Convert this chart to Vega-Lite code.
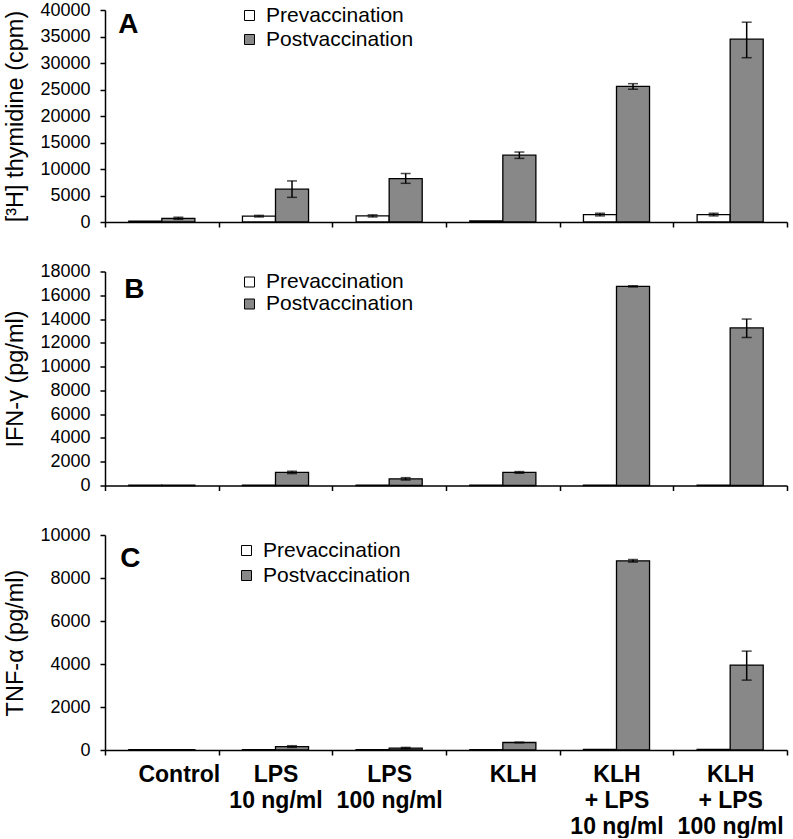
{
  "$schema": "https://vega.github.io/schema/vega-lite/v6.json",
  "background": "white",
  "padding": {"left": 3, "top": 1, "right": 2, "bottom": 0},
  "bounds": "flush",
  "spacing": 49.5,
  "config": {
    "font": "Liberation Sans",
    "view": {"stroke": null},
    "axis": {
      "domainColor": "black", "domainWidth": 1.5, "tickColor": "black", "tickWidth": 1.5, "tickSize": 5,
      "labelColor": "black", "titleColor": "black", "grid": false,
      "labelFont": "Liberation Sans", "titleFont": "Liberation Sans"
    },
    "axisY": {"labelOverlap": false, "labelFontSize": 18, "labelPadding": 10, "titleFontSize": 23.5, "titleFontWeight": "normal", "titlePadding": 12, "format": "d"},
    "legend": {"labelFont": "Liberation Sans", "labelColor": "black"}
  },
  "datasets": {
    "A": [
      {"cond": "Control", "phase": "Prevaccination", "value": 150, "lo": null, "hi": null},
      {"cond": "Control", "phase": "Postvaccination", "value": 700, "lo": 500, "hi": 900},
      {"cond": "LPS|10 ng/ml", "phase": "Prevaccination", "value": 1100, "lo": 950, "hi": 1250},
      {"cond": "LPS|10 ng/ml", "phase": "Postvaccination", "value": 6200, "lo": 4650, "hi": 7750},
      {"cond": "LPS|100 ng/ml", "phase": "Prevaccination", "value": 1150, "lo": 950, "hi": 1350},
      {"cond": "LPS|100 ng/ml", "phase": "Postvaccination", "value": 8200, "lo": 7300, "hi": 9150},
      {"cond": "KLH", "phase": "Prevaccination", "value": 200, "lo": null, "hi": null},
      {"cond": "KLH", "phase": "Postvaccination", "value": 12600, "lo": 12000, "hi": 13200},
      {"cond": "KLH|+ LPS|10 ng/ml", "phase": "Prevaccination", "value": 1400, "lo": 1150, "hi": 1650},
      {"cond": "KLH|+ LPS|10 ng/ml", "phase": "Postvaccination", "value": 25600, "lo": 25050, "hi": 26100},
      {"cond": "KLH|+ LPS|100 ng/ml", "phase": "Prevaccination", "value": 1400, "lo": 1150, "hi": 1650},
      {"cond": "KLH|+ LPS|100 ng/ml", "phase": "Postvaccination", "value": 34500, "lo": 31000, "hi": 37700}
    ],
    "B": [
      {"cond": "Control", "phase": "Prevaccination", "value": 20, "lo": null, "hi": null},
      {"cond": "Control", "phase": "Postvaccination", "value": 20, "lo": null, "hi": null},
      {"cond": "LPS|10 ng/ml", "phase": "Prevaccination", "value": 20, "lo": null, "hi": null},
      {"cond": "LPS|10 ng/ml", "phase": "Postvaccination", "value": 1100, "lo": 1000, "hi": 1200},
      {"cond": "LPS|100 ng/ml", "phase": "Prevaccination", "value": 20, "lo": null, "hi": null},
      {"cond": "LPS|100 ng/ml", "phase": "Postvaccination", "value": 560, "lo": 460, "hi": 660},
      {"cond": "KLH", "phase": "Prevaccination", "value": 20, "lo": null, "hi": null},
      {"cond": "KLH", "phase": "Postvaccination", "value": 1100, "lo": 1030, "hi": 1170},
      {"cond": "KLH|+ LPS|10 ng/ml", "phase": "Prevaccination", "value": 20, "lo": null, "hi": null},
      {"cond": "KLH|+ LPS|10 ng/ml", "phase": "Postvaccination", "value": 16750, "lo": 16700, "hi": 16800},
      {"cond": "KLH|+ LPS|100 ng/ml", "phase": "Prevaccination", "value": 20, "lo": null, "hi": null},
      {"cond": "KLH|+ LPS|100 ng/ml", "phase": "Postvaccination", "value": 13250, "lo": 12450, "hi": 14000}
    ],
    "C": [
      {"cond": "Control", "phase": "Prevaccination", "value": 20, "lo": null, "hi": null},
      {"cond": "Control", "phase": "Postvaccination", "value": 20, "lo": null, "hi": null},
      {"cond": "LPS|10 ng/ml", "phase": "Prevaccination", "value": 20, "lo": null, "hi": null},
      {"cond": "LPS|10 ng/ml", "phase": "Postvaccination", "value": 160, "lo": 120, "hi": 200},
      {"cond": "LPS|100 ng/ml", "phase": "Prevaccination", "value": 20, "lo": null, "hi": null},
      {"cond": "LPS|100 ng/ml", "phase": "Postvaccination", "value": 90, "lo": 60, "hi": 120},
      {"cond": "KLH", "phase": "Prevaccination", "value": 20, "lo": null, "hi": null},
      {"cond": "KLH", "phase": "Postvaccination", "value": 350, "lo": 335, "hi": 365},
      {"cond": "KLH|+ LPS|10 ng/ml", "phase": "Prevaccination", "value": 30, "lo": null, "hi": null},
      {"cond": "KLH|+ LPS|10 ng/ml", "phase": "Postvaccination", "value": 8800, "lo": 8740, "hi": 8860},
      {"cond": "KLH|+ LPS|100 ng/ml", "phase": "Prevaccination", "value": 30, "lo": null, "hi": null},
      {"cond": "KLH|+ LPS|100 ng/ml", "phase": "Postvaccination", "value": 3950, "lo": 3250, "hi": 4600}
    ]
  },
  "resolve": {"scale": {"x": "independent", "y": "independent", "fill": "independent"}, "legend": {"fill": "independent"}},
  "vconcat": [
    {
      "width": 682, "height": 212,
      "data": {"name": "A"},
      "encoding": {
        "x": {"field": "cond", "type": "nominal", "sort": null, "title": null,
              "scale": {"paddingInner": 0, "paddingOuter": 0},
              "axis": {"labels": false, "tickBand": "extent"}},
        "xOffset": {"field": "phase", "type": "nominal", "sort": ["Prevaccination", "Postvaccination"],
                    "scale": {"paddingInner": 0, "paddingOuter": 0.72}}
      },
      "layer": [
        {
          "mark": {"type": "bar", "stroke": "black", "strokeWidth": 1.3},
          "encoding": {
            "y": {"field": "value", "type": "quantitative", "title": "[³H] thymidine (cpm)",
                  "scale": {"domain": [0, 40000], "nice": false},
                  "axis": {"values": [0, 5000, 10000, 15000, 20000, 25000, 30000, 35000, 40000]}},
            "fill": {"field": "phase", "type": "nominal", "sort": ["Prevaccination", "Postvaccination"],
                     "scale": {"domain": ["Prevaccination", "Postvaccination"], "range": ["white", "#888888"]},
                     "legend": {"orient": "none", "legendX": 134, "legendY": -5, "title": null, "symbolType": "square",
                                "symbolSize": 100, "symbolStrokeColor": "black", "symbolStrokeWidth": 1,
                                "labelFontSize": 21, "labelOffset": 6, "rowPadding": 2, "padding": 0}}
          }
        },
        {
          "transform": [{"filter": "datum.lo != null"}],
          "mark": {"type": "rule", "color": "black", "strokeWidth": 1.5},
          "encoding": {"y": {"field": "lo", "type": "quantitative", "title": "[³H] thymidine (cpm)",
                             "axis": {"values": [0, 5000, 10000, 15000, 20000, 25000, 30000, 35000, 40000]}}, "y2": {"field": "hi"}}
        },
        {
          "transform": [{"filter": "datum.lo != null"}],
          "mark": {"type": "tick", "color": "black", "size": 10, "thickness": 1.5},
          "encoding": {"y": {"field": "lo", "type": "quantitative", "title": "[³H] thymidine (cpm)",
                             "axis": {"values": [0, 5000, 10000, 15000, 20000, 25000, 30000, 35000, 40000]}}}
        },
        {
          "transform": [{"filter": "datum.lo != null"}],
          "mark": {"type": "tick", "color": "black", "size": 10, "thickness": 1.5},
          "encoding": {"y": {"field": "hi", "type": "quantitative", "title": "[³H] thymidine (cpm)",
                             "axis": {"values": [0, 5000, 10000, 15000, 20000, 25000, 30000, 35000, 40000]}}}
        },
        {
          "transform": [{"filter": "datum.cond == 'Control' && datum.phase == 'Prevaccination'"}],
          "mark": {"type": "text", "text": "A", "fontSize": 28, "fontWeight": "bold", "align": "left", "baseline": "alphabetic", "dx": -27, "color": "black", "font": "Liberation Sans"},
          "encoding": {"y": {"datum": 35660, "type": "quantitative", "title": "[³H] thymidine (cpm)",
                             "axis": {"values": [0, 5000, 10000, 15000, 20000, 25000, 30000, 35000, 40000]}}}
        }
      ]
    },
    {
      "width": 682, "height": 214,
      "data": {"name": "B"},
      "encoding": {
        "x": {"field": "cond", "type": "nominal", "sort": null, "title": null,
              "scale": {"paddingInner": 0, "paddingOuter": 0},
              "axis": {"labels": false, "tickBand": "extent"}},
        "xOffset": {"field": "phase", "type": "nominal", "sort": ["Prevaccination", "Postvaccination"],
                    "scale": {"paddingInner": 0, "paddingOuter": 0.72}}
      },
      "layer": [
        {
          "mark": {"type": "bar", "stroke": "black", "strokeWidth": 1.3},
          "encoding": {
            "y": {"field": "value", "type": "quantitative", "title": "IFN-γ (pg/ml)",
                  "scale": {"domain": [0, 18000], "nice": false},
                  "axis": {"values": [0, 2000, 4000, 6000, 8000, 10000, 12000, 14000, 16000, 18000]}},
            "fill": {"field": "phase", "type": "nominal", "sort": ["Prevaccination", "Postvaccination"],
                     "scale": {"domain": ["Prevaccination", "Postvaccination"], "range": ["white", "#888888"]},
                     "legend": {"orient": "none", "legendX": 134, "legendY": 0, "title": null, "symbolType": "square",
                                "symbolSize": 100, "symbolStrokeColor": "black", "symbolStrokeWidth": 1,
                                "labelFontSize": 21, "labelOffset": 6, "rowPadding": 0, "padding": 0}}
          }
        },
        {
          "transform": [{"filter": "datum.lo != null"}],
          "mark": {"type": "rule", "color": "black", "strokeWidth": 1.5},
          "encoding": {"y": {"field": "lo", "type": "quantitative", "title": "IFN-γ (pg/ml)",
                             "axis": {"values": [0, 2000, 4000, 6000, 8000, 10000, 12000, 14000, 16000, 18000]}}, "y2": {"field": "hi"}}
        },
        {
          "transform": [{"filter": "datum.lo != null"}],
          "mark": {"type": "tick", "color": "black", "size": 10, "thickness": 1.5},
          "encoding": {"y": {"field": "lo", "type": "quantitative", "title": "IFN-γ (pg/ml)",
                             "axis": {"values": [0, 2000, 4000, 6000, 8000, 10000, 12000, 14000, 16000, 18000]}}}
        },
        {
          "transform": [{"filter": "datum.lo != null"}],
          "mark": {"type": "tick", "color": "black", "size": 10, "thickness": 1.5},
          "encoding": {"y": {"field": "hi", "type": "quantitative", "title": "IFN-γ (pg/ml)",
                             "axis": {"values": [0, 2000, 4000, 6000, 8000, 10000, 12000, 14000, 16000, 18000]}}}
        },
        {
          "transform": [{"filter": "datum.cond == 'Control' && datum.phase == 'Prevaccination'"}],
          "mark": {"type": "text", "text": "B", "fontSize": 28, "fontWeight": "bold", "align": "left", "baseline": "alphabetic", "dx": -21, "color": "black", "font": "Liberation Sans"},
          "encoding": {"y": {"datum": 15730, "type": "quantitative", "title": "IFN-γ (pg/ml)",
                             "axis": {"values": [0, 2000, 4000, 6000, 8000, 10000, 12000, 14000, 16000, 18000]}}}
        }
      ]
    },
    {
      "width": 682, "height": 215,
      "data": {"name": "C"},
      "encoding": {
        "x": {"field": "cond", "type": "nominal", "sort": null, "title": null,
              "scale": {"paddingInner": 0, "paddingOuter": 0},
              "axis": {"tickBand": "extent", "labelExpr": "split(datum.label, '|')", "labelAngle": 0,
                       "labelFontSize": 23, "labelFontWeight": "bold", "labelLineHeight": 26, "labelPadding": 8,
                       "labelLimit": 0, "labelOverlap": false,
                       "labelOffset": {"condition": [{"test": "datum.value == 'Control'", "value": 17}, {"test": "datum.value == 'KLH'", "value": 10}], "value": 0}}},
        "xOffset": {"field": "phase", "type": "nominal", "sort": ["Prevaccination", "Postvaccination"],
                    "scale": {"paddingInner": 0, "paddingOuter": 0.72}}
      },
      "layer": [
        {
          "mark": {"type": "bar", "stroke": "black", "strokeWidth": 1.3},
          "encoding": {
            "y": {"field": "value", "type": "quantitative", "title": "TNF-α (pg/ml)",
                  "scale": {"domain": [0, 10000], "nice": false},
                  "axis": {"values": [0, 2000, 4000, 6000, 8000, 10000]}},
            "fill": {"field": "phase", "type": "nominal", "sort": ["Prevaccination", "Postvaccination"],
                     "scale": {"domain": ["Prevaccination", "Postvaccination"], "range": ["white", "#888888"]},
                     "legend": {"orient": "none", "legendX": 131, "legendY": 5, "title": null, "symbolType": "square",
                                "symbolSize": 100, "symbolStrokeColor": "black", "symbolStrokeWidth": 1,
                                "labelFontSize": 21, "labelOffset": 6, "rowPadding": 3, "padding": 0}}
          }
        },
        {
          "transform": [{"filter": "datum.lo != null"}],
          "mark": {"type": "rule", "color": "black", "strokeWidth": 1.5},
          "encoding": {"y": {"field": "lo", "type": "quantitative", "title": "TNF-α (pg/ml)",
                             "axis": {"values": [0, 2000, 4000, 6000, 8000, 10000]}}, "y2": {"field": "hi"}}
        },
        {
          "transform": [{"filter": "datum.lo != null"}],
          "mark": {"type": "tick", "color": "black", "size": 10, "thickness": 1.5},
          "encoding": {"y": {"field": "lo", "type": "quantitative", "title": "TNF-α (pg/ml)",
                             "axis": {"values": [0, 2000, 4000, 6000, 8000, 10000]}}}
        },
        {
          "transform": [{"filter": "datum.lo != null"}],
          "mark": {"type": "tick", "color": "black", "size": 10, "thickness": 1.5},
          "encoding": {"y": {"field": "hi", "type": "quantitative", "title": "TNF-α (pg/ml)",
                             "axis": {"values": [0, 2000, 4000, 6000, 8000, 10000]}}}
        },
        {
          "transform": [{"filter": "datum.cond == 'Control' && datum.phase == 'Prevaccination'"}],
          "mark": {"type": "text", "text": "C", "fontSize": 28, "fontWeight": "bold", "align": "left", "baseline": "alphabetic", "dx": -25, "color": "black", "font": "Liberation Sans"},
          "encoding": {"y": {"datum": 8510, "type": "quantitative", "title": "TNF-α (pg/ml)",
                             "axis": {"values": [0, 2000, 4000, 6000, 8000, 10000]}}}
        }
      ]
    }
  ]
}
